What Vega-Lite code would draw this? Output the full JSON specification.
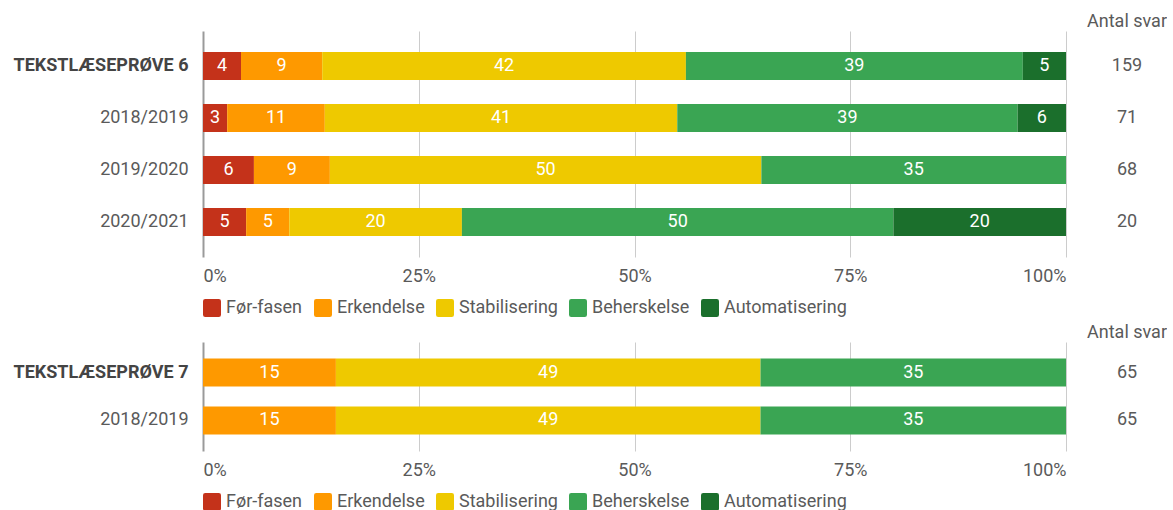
{
  "$schema": "https://vega.github.io/schema/vega-lite/v6.json",
  "padding": {"left": 5, "top": 13, "right": 0, "bottom": 0},
  "background": "white",
  "config": {"font": "Roboto", "view": {"stroke": null}},
  "datasets": {
    "t6": [
      {"row": "TEKSTLÆSEPRØVE 6", "fase": "Før-fasen", "pct": 4.4},
      {"row": "TEKSTLÆSEPRØVE 6", "fase": "Erkendelse", "pct": 9.4},
      {"row": "TEKSTLÆSEPRØVE 6", "fase": "Stabilisering", "pct": 42.1},
      {"row": "TEKSTLÆSEPRØVE 6", "fase": "Beherskelse", "pct": 39.0},
      {"row": "TEKSTLÆSEPRØVE 6", "fase": "Automatisering", "pct": 5.0},
      {"row": "2018/2019", "fase": "Før-fasen", "pct": 2.8},
      {"row": "2018/2019", "fase": "Erkendelse", "pct": 11.3},
      {"row": "2018/2019", "fase": "Stabilisering", "pct": 40.8},
      {"row": "2018/2019", "fase": "Beherskelse", "pct": 39.4},
      {"row": "2018/2019", "fase": "Automatisering", "pct": 5.6},
      {"row": "2019/2020", "fase": "Før-fasen", "pct": 5.9},
      {"row": "2019/2020", "fase": "Erkendelse", "pct": 8.8},
      {"row": "2019/2020", "fase": "Stabilisering", "pct": 50.0},
      {"row": "2019/2020", "fase": "Beherskelse", "pct": 35.3},
      {"row": "2020/2021", "fase": "Før-fasen", "pct": 5.0},
      {"row": "2020/2021", "fase": "Erkendelse", "pct": 5.0},
      {"row": "2020/2021", "fase": "Stabilisering", "pct": 20.0},
      {"row": "2020/2021", "fase": "Beherskelse", "pct": 50.0},
      {"row": "2020/2021", "fase": "Automatisering", "pct": 20.0}
    ],
    "n6": [
      {"row": "TEKSTLÆSEPRØVE 6", "n": 159},
      {"row": "2018/2019", "n": 71},
      {"row": "2019/2020", "n": 68},
      {"row": "2020/2021", "n": 20}
    ],
    "t7": [
      {"row": "TEKSTLÆSEPRØVE 7", "fase": "Erkendelse", "pct": 15.4},
      {"row": "TEKSTLÆSEPRØVE 7", "fase": "Stabilisering", "pct": 49.2},
      {"row": "TEKSTLÆSEPRØVE 7", "fase": "Beherskelse", "pct": 35.4},
      {"row": "2018/2019", "fase": "Erkendelse", "pct": 15.4},
      {"row": "2018/2019", "fase": "Stabilisering", "pct": 49.2},
      {"row": "2018/2019", "fase": "Beherskelse", "pct": 35.4}
    ],
    "n7": [
      {"row": "TEKSTLÆSEPRØVE 7", "n": 65},
      {"row": "2018/2019", "n": 65}
    ]
  },
  "spacing": 7,
  "resolve": {"scale": {"color": "independent"}, "legend": {"color": "independent"}},
  "vconcat": [
    {
      "bounds": "flush",
      "spacing": 21,
      "hconcat": [
        {
          "width": 863,
          "height": 226,
          "data": {"name": "t6"},
          "transform": [{"calculate": "indexof(['Før-fasen','Erkendelse','Stabilisering','Beherskelse','Automatisering'], datum.fase)", "as": "o"}],
          "encoding": {
            "y": {"field": "row", "type": "nominal", "sort": null,
              "scale": {"type": "band", "paddingInner": 0.4615, "paddingOuter": 0.404},
              "axis": {"title": null, "domain": false, "ticks": false, "labelPadding": 15, "labelFontSize": 18, "minExtent": 198, "maxExtent": 198,
                "labelColor": {"condition": {"test": "indexof(datum.value, 'TEKST') === 0", "value": "#444444"}, "value": "#5a5a5a"},
                "labelFontWeight": {"condition": {"test": "indexof(datum.value, 'TEKST') === 0", "value": "bold"}, "value": "normal"}}},
            "order": {"field": "o", "type": "quantitative"}
          },
          "layer": [
            {
              "mark": {"type": "bar"},
              "encoding": {
                "x": {"field": "pct", "type": "quantitative", "stack": "normalize",
                  "axis": {"title": null, "values": [0, 0.25, 0.5, 0.75, 1], "format": ".0%", "domain": false, "ticks": false, "labelFlush": true, "labelPadding": 10, "labelFontSize": 18, "labelColor": "#5a5a5a",
                    "gridColor": {"condition": {"test": "datum.value === 0", "value": "#9a9a9a"}, "value": "#cccccc"}, "gridWidth": {"condition": {"test": "datum.value === 0", "value": 2}, "value": 1}}},
                "color": {"field": "fase", "type": "nominal",
                  "scale": {"domain": ["Før-fasen", "Erkendelse", "Stabilisering", "Beherskelse", "Automatisering"], "range": ["#c4321a", "#fe9900", "#eec900", "#3aa553", "#1b6f2c"]},
                  "legend": {"orient": "bottom", "direction": "horizontal", "title": null, "symbolType": "M-0.75,-1H0.75Q1,-1,1,-0.75V0.75Q1,1,0.75,1H-0.75Q-1,1,-1,0.75V-0.75Q-1,-1,-0.75,-1Z", "symbolSize": 324, "symbolStrokeWidth": 0, "symbolOpacity": 1, "labelFontSize": 18, "labelColor": "#5a5a5a", "labelOffset": 5, "columnPadding": 11, "offset": 14}}
              }
            },
            {
              "mark": {"type": "text", "color": "white", "fontSize": 18},
              "encoding": {
                "x": {"field": "pct", "type": "quantitative", "stack": "normalize", "bandPosition": 0.5},
                "detail": {"field": "fase"},
                "text": {"field": "pct", "type": "quantitative", "format": ".0f"}
              }
            }
          ]
        },
        {
          "width": 80,
          "height": 226,
          "data": {"name": "n6"},
          "title": {"text": "Antal svar", "fontSize": 18, "fontWeight": "normal", "color": "#5a5a5a", "offset": 0, "anchor": "middle"},
          "mark": {"type": "text", "fontSize": 18, "color": "#5a5a5a"},
          "encoding": {
            "y": {"field": "row", "type": "nominal", "sort": null, "scale": {"type": "band", "paddingInner": 0.4615, "paddingOuter": 0.404}, "axis": null},
            "text": {"field": "n", "type": "quantitative"}
          }
        }
      ]
    },
    {
      "bounds": "flush",
      "spacing": 21,
      "hconcat": [
        {
          "width": 863,
          "height": 109,
          "data": {"name": "t7"},
          "transform": [{"calculate": "indexof(['Før-fasen','Erkendelse','Stabilisering','Beherskelse','Automatisering'], datum.fase)", "as": "o"}],
          "encoding": {
            "y": {"field": "row", "type": "nominal", "sort": null,
              "scale": {"type": "band", "paddingInner": 0.417, "paddingOuter": 0.344},
              "axis": {"title": null, "domain": false, "ticks": false, "labelPadding": 15, "labelFontSize": 18, "minExtent": 198, "maxExtent": 198,
                "labelColor": {"condition": {"test": "indexof(datum.value, 'TEKST') === 0", "value": "#444444"}, "value": "#5a5a5a"},
                "labelFontWeight": {"condition": {"test": "indexof(datum.value, 'TEKST') === 0", "value": "bold"}, "value": "normal"}}},
            "order": {"field": "o", "type": "quantitative"}
          },
          "layer": [
            {
              "mark": {"type": "bar"},
              "encoding": {
                "x": {"field": "pct", "type": "quantitative", "stack": "normalize",
                  "axis": {"title": null, "values": [0, 0.25, 0.5, 0.75, 1], "format": ".0%", "domain": false, "ticks": false, "labelFlush": true, "labelPadding": 10, "labelFontSize": 18, "labelColor": "#5a5a5a",
                    "gridColor": {"condition": {"test": "datum.value === 0", "value": "#9a9a9a"}, "value": "#cccccc"}, "gridWidth": {"condition": {"test": "datum.value === 0", "value": 2}, "value": 1}}},
                "color": {"field": "fase", "type": "nominal",
                  "scale": {"domain": ["Før-fasen", "Erkendelse", "Stabilisering", "Beherskelse", "Automatisering"], "range": ["#c4321a", "#fe9900", "#eec900", "#3aa553", "#1b6f2c"]},
                  "legend": {"orient": "bottom", "direction": "horizontal", "title": null, "symbolType": "M-0.75,-1H0.75Q1,-1,1,-0.75V0.75Q1,1,0.75,1H-0.75Q-1,1,-1,0.75V-0.75Q-1,-1,-0.75,-1Z", "symbolSize": 324, "symbolStrokeWidth": 0, "symbolOpacity": 1, "labelFontSize": 18, "labelColor": "#5a5a5a", "labelOffset": 5, "columnPadding": 11, "offset": 14}}
              }
            },
            {
              "mark": {"type": "text", "color": "white", "fontSize": 18},
              "encoding": {
                "x": {"field": "pct", "type": "quantitative", "stack": "normalize", "bandPosition": 0.5},
                "detail": {"field": "fase"},
                "text": {"field": "pct", "type": "quantitative", "format": ".0f"}
              }
            }
          ]
        },
        {
          "width": 80,
          "height": 109,
          "data": {"name": "n7"},
          "title": {"text": "Antal svar", "fontSize": 18, "fontWeight": "normal", "color": "#5a5a5a", "offset": 0, "anchor": "middle"},
          "mark": {"type": "text", "fontSize": 18, "color": "#5a5a5a"},
          "encoding": {
            "y": {"field": "row", "type": "nominal", "sort": null, "scale": {"type": "band", "paddingInner": 0.417, "paddingOuter": 0.344}, "axis": null},
            "text": {"field": "n", "type": "quantitative"}
          }
        }
      ]
    }
  ]
}
